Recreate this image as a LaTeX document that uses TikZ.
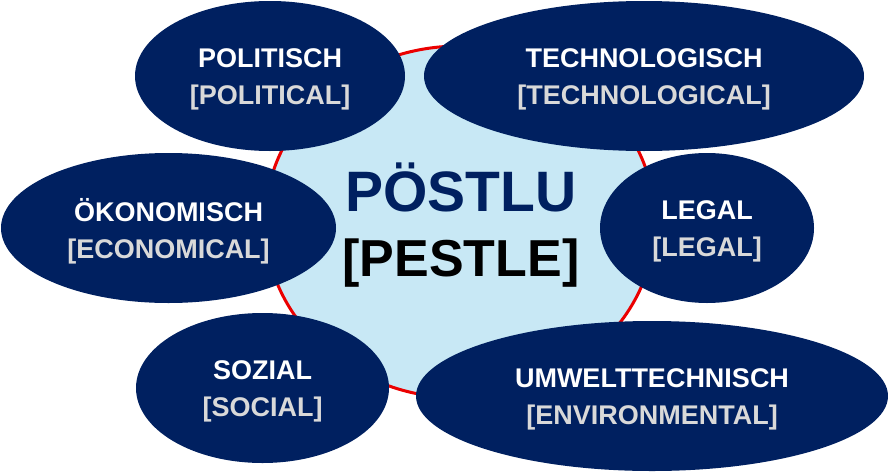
\documentclass[tikz,border=0pt]{standalone}
\usepackage{fontspec}
\setmainfont{Liberation Sans}
\usetikzlibrary{shapes.geometric}
\definecolor{navy}{RGB}{0,32,96}
\definecolor{skyfill}{RGB}{200,232,245}
\definecolor{capgray}{RGB}{217,217,217}
\definecolor{ringred}{RGB}{235,0,0}

\begin{document}
\begin{tikzpicture}[x=1pt,y=-1pt,
  core/.style = {ellipse, fill=skyfill, draw=ringred, line width=3pt, inner sep=0pt},
  factor/.style = {ellipse, fill=navy, inner sep=0pt, minimum height=150pt},
  word/.style = {align=center, text=white, font=\bfseries\fontsize{27}{37}\selectfont, yshift=-3.5pt}]
\useasboundingbox (0,0) rectangle (888,471);
% centre
\node[core, minimum width=390pt, minimum height=352pt] (pestle) at (460,222) {};
\node[align=center, text=navy, font=\bfseries\fontsize{57}{65}\selectfont] (pestle-t) at (461,225.5) {PÖSTLU\\{\color{black}\fontsize{52}{65}\selectfont [PESTLE]}};
% the six factors
\node[factor, minimum width=270pt] (pol) at (270,76) {};
\node[factor, minimum width=440pt] (tech) at (644,76) {};
\node[factor, minimum width=335pt] (eco) at (168.5,228) {};
\node[factor, minimum width=214pt] (leg) at (707,228) {};
\node[factor, minimum width=253pt] (soc) at (262.5,388) {};
\node[factor, minimum width=472pt] (env) at (652,396) {};
\node[word] (pol-t) at (pol) {POLITISCH\\\textcolor{capgray}{[POLITICAL]}};
\node[word] (tech-t) at (tech) {TECHNOLOGISCH\\\textcolor{capgray}{[TECHNOLOGICAL]}};
\node[word] (eco-t) at (eco) {ÖKONOMISCH\\\textcolor{capgray}{[ECONOMICAL]}};
\node[word] (leg-t) at (leg) {LEGAL\\\textcolor{capgray}{[LEGAL]}};
\node[word] (soc-t) at (soc) {SOZIAL\\\textcolor{capgray}{[SOCIAL]}};
\node[word] (env-t) at (env) {UMWELTTECHNISCH\\\textcolor{capgray}{[ENVIRONMENTAL]}};
\end{tikzpicture}
\end{document}
